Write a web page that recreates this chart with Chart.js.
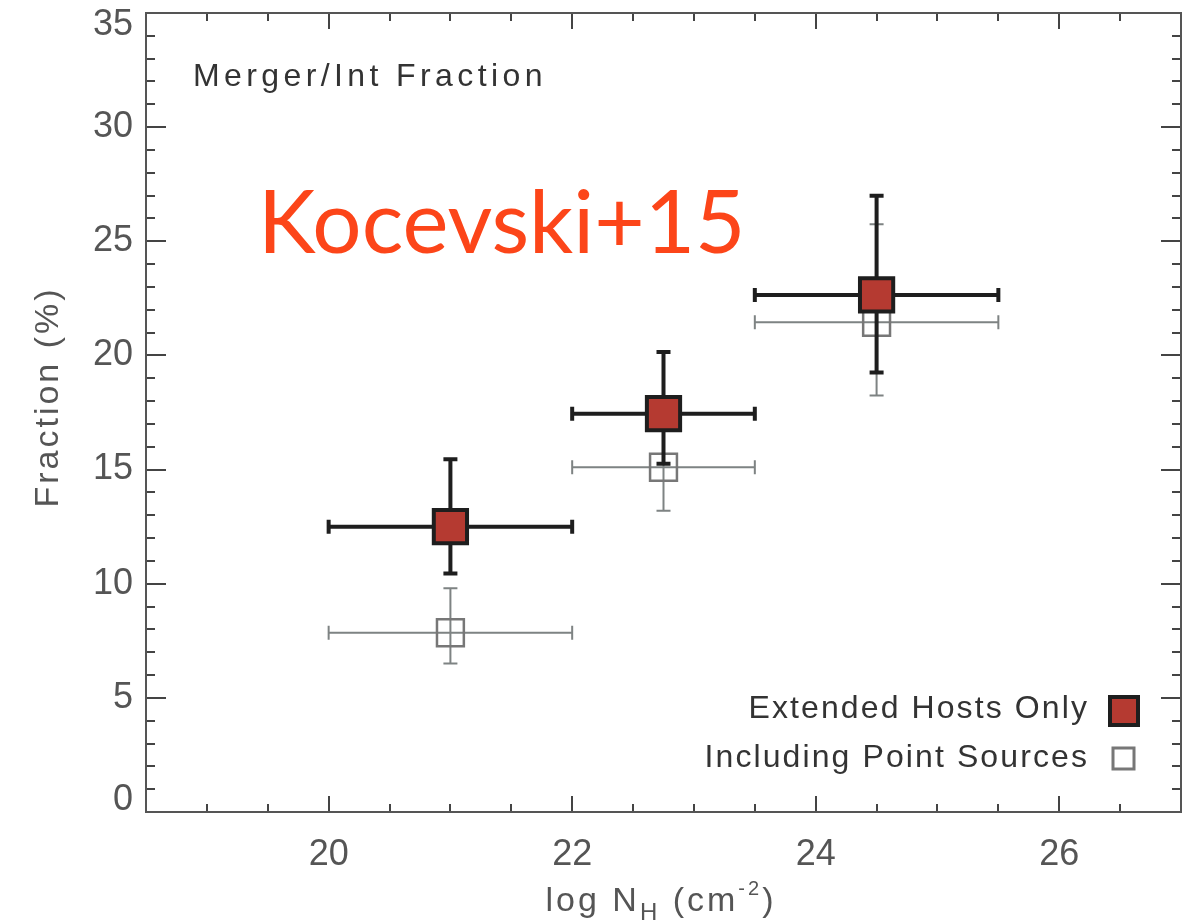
<!DOCTYPE html>
<html>
<head>
<meta charset="utf-8">
<script src="https://cdn.jsdelivr.net/npm/chart.js@4"></script>
<style>
  html, body { margin: 0; padding: 0; background: #fff; }
  #wrap { width: 1195px; height: 922px; }
</style>
</head>
<body>
<div id="wrap"><canvas id="chart" width="1195" height="922"></canvas></div>
<script>
// values
const xTicks = [20, 22, 24, 26];
const yTicks = [0, 5, 10, 15, 20, 25, 30, 35];
const seriesNames = ['Extended Hosts Only', 'Including Point Sources'];

const logNH = [21, 22.75, 24.5];
const binLo = [20, 22, 23.5];
const binHi = [22, 23.5, 25.5];

const extFrac = [12.5, 17.45, 22.65];
const extLo   = [10.45, 15.25, 19.25];
const extHi   = [15.45, 20.15, 27.0];

const allFrac = [7.85, 15.1, 21.45];
const allLo   = [6.5, 13.2, 18.25];
const allHi   = [9.8, 17.0, 25.75];

const txtFont = '"Liberation Sans", Arial, sans-serif';
const red = '#b53a31';
const dark = '#1e1e1e';
const grey = '#7e8383';

function toPoints(ys) {
  return logNH.map((x, i) => ({ x: x, y: ys[i] }));
}

const errInfo = [
  { lo: extLo, hi: extHi, color: dark, width: 4, cap: 7 },
  { lo: allLo, hi: allHi, color: grey, width: 2, cap: 7 }
];

// error bars go under each dataset's own markers
const errBars = {
  id: 'errBars',
  beforeDatasetDraw(chart, args) {
    const e = errInfo[args.index];
    const xs = chart.scales.x, ys = chart.scales.y;
    const ctx = chart.ctx;
    ctx.save();
    ctx.strokeStyle = e.color;
    ctx.lineWidth = e.width;
    ctx.lineCap = 'butt';
    const vals = chart.data.datasets[args.index].data;
    vals.forEach((p, i) => {
      const px = xs.getPixelForValue(p.x);
      const py = ys.getPixelForValue(p.y);
      const x0 = xs.getPixelForValue(binLo[i]);
      const x1 = xs.getPixelForValue(binHi[i]);
      const y0 = ys.getPixelForValue(e.lo[i]);
      const y1 = ys.getPixelForValue(e.hi[i]);
      ctx.beginPath();
      ctx.moveTo(x0, py); ctx.lineTo(x1, py);
      ctx.moveTo(px, y0); ctx.lineTo(px, y1);
      ctx.moveTo(x0, py - e.cap); ctx.lineTo(x0, py + e.cap);
      ctx.moveTo(x1, py - e.cap); ctx.lineTo(x1, py + e.cap);
      ctx.moveTo(px - e.cap, y0); ctx.lineTo(px + e.cap, y0);
      ctx.moveTo(px - e.cap, y1); ctx.lineTo(px + e.cap, y1);
      ctx.stroke();
    });
    ctx.restore();
  }
};

// frame, inward ticks, titles, legend and labels
const decor = {
  id: 'decor',
  beforeDatasetsDraw(chart) {
    const ctx = chart.ctx;
    const a = chart.chartArea;
    const xs = chart.scales.x, ys = chart.scales.y;
    ctx.save();
    ctx.strokeStyle = '#444';
    ctx.lineWidth = 2;
    ctx.beginPath();
    for (let v = 19; v < 27; v += 0.5) {
      const px = Math.round(xs.getPixelForValue(v));
      const len = xTicks.includes(v) ? 16 : 8;
      ctx.moveTo(px, a.bottom); ctx.lineTo(px, a.bottom - len);
      ctx.moveTo(px, a.top); ctx.lineTo(px, a.top + len);
    }
    for (let v = 1; v < 35; v++) {
      const py = Math.round(ys.getPixelForValue(v));
      const len = yTicks.includes(v) ? 20 : 9;
      ctx.moveTo(a.left, py); ctx.lineTo(a.left + len, py);
      ctx.moveTo(a.right, py); ctx.lineTo(a.right - len, py);
    }
    ctx.stroke();
    ctx.strokeStyle = '#555';
    ctx.strokeRect(a.left, a.top, a.right - a.left, a.bottom - a.top);

    // inner label
    ctx.fillStyle = '#333';
    ctx.font = '32px ' + txtFont;
    ctx.letterSpacing = '4.4px';
    ctx.textAlign = 'left';
    ctx.textBaseline = 'alphabetic';
    ctx.fillText('Merger/Int Fraction', 193, 86);

    // big red tag
    ctx.letterSpacing = '0px';
    ctx.fillStyle = '#fc4519';
    ctx.font = '87px Lato, "Open Sans", sans-serif';
    ctx.fillText('Kocevski+15', 258, 253);

    // y title
    ctx.fillStyle = '#555';
    ctx.font = '34px ' + txtFont;
    ctx.letterSpacing = '3px';
    ctx.save();
    ctx.translate(58, 397);
    ctx.rotate(-Math.PI / 2);
    ctx.textAlign = 'center';
    ctx.fillText('Fraction (%)', 0, 0);
    ctx.restore();

    // x title with sub/superscript
    const parts = [
      { t: 'log N', size: 34, dy: 0 },
      { t: 'H', size: 24, dy: 9 },
      { t: ' (cm', size: 34, dy: 0 },
      { t: '-2', size: 20, dy: -16 },
      { t: ')', size: 34, dy: 0 }
    ];
    let total = 0;
    parts.forEach(p => { ctx.font = p.size + 'px ' + txtFont; p.w = ctx.measureText(p.t).width; total += p.w; });
    let cx = 661 - total / 2;
    ctx.textAlign = 'left';
    parts.forEach(p => {
      ctx.font = p.size + 'px ' + txtFont;
      ctx.fillText(p.t, cx, 911 + p.dy);
      cx += p.w;
    });
    ctx.restore();
  },
  afterDraw(chart) {
    const ctx = chart.ctx;
    ctx.save();
    ctx.font = '32px ' + txtFont;
    ctx.letterSpacing = '2.1px';
    ctx.textAlign = 'right';
    ctx.textBaseline = 'middle';
    ctx.fillStyle = '#333';
    ctx.fillText(seriesNames[0], 1089, 709);
    ctx.fillText(seriesNames[1], 1089, 758);
    ctx.fillStyle = red;
    ctx.strokeStyle = dark;
    ctx.lineWidth = 4;
    ctx.fillRect(1110, 697, 28, 28);
    ctx.strokeRect(1110, 697, 28, 28);
    ctx.strokeStyle = '#777';
    ctx.lineWidth = 3;
    ctx.strokeRect(1113, 748, 21, 21);
    ctx.restore();
  }
};

// end labels of the y axis sit inside the frame, as in the original
function yLabel(v) {
  if (v === yTicks[yTicks.length - 1]) return ['', String(v)];
  if (v === yTicks[0]) return [String(v), ''];
  return String(v);
}

new Chart(document.getElementById('chart'), {
  type: 'scatter',
  data: {
    datasets: [{
      label: seriesNames[0],
      data: toPoints(extFrac),
      pointStyle: 'rect',
      pointRadius: 23.5,
      pointHoverRadius: 23.5,
      backgroundColor: red,
      borderColor: dark,
      borderWidth: 4
    }, {
      label: seriesNames[1],
      data: toPoints(allFrac),
      pointStyle: 'rect',
      pointRadius: 19,
      pointHoverRadius: 19,
      backgroundColor: 'rgba(0,0,0,0)',
      borderColor: '#777',
      borderWidth: 2.5
    }]
  },
  options: {
    responsive: false,
    animation: false,
    events: [],
    layout: { autoPadding: false, padding: { top: 13, right: 14, left: 0, bottom: 0 } },
    plugins: {
      legend: { display: false },
      tooltip: { enabled: false }
    },
    scales: {
      x: {
        type: 'linear',
        min: 18.5,
        max: 27,
        afterBuildTicks: s => { s.ticks = xTicks.map(v => ({ value: v })); },
        afterFit: s => { s.height = 110; s.paddingLeft = 0; s.paddingRight = 0; },
        grid: { display: false, drawTicks: false },
        border: { display: false },
        ticks: { color: '#555', padding: 21, font: { size: 36, family: txtFont } }
      },
      y: {
        min: 0,
        max: 35,
        afterBuildTicks: s => { s.ticks = yTicks.map(v => ({ value: v })); },
        afterFit: s => { s.width = 146; s.paddingTop = 0; s.paddingBottom = 0; },
        grid: { display: false, drawTicks: false },
        border: { display: false },
        ticks: {
          color: '#555',
          padding: 13,
          callback: v => yLabel(v),
          font: c => {
            const v = c.tick ? c.tick.value : null;
            const edge = v === yTicks[0] || v === yTicks[yTicks.length - 1];
            return { size: 36, family: txtFont, lineHeight: edge ? 0.67 : 1.2 };
          }
        }
      }
    }
  },
  plugins: [errBars, decor]
});
</script>
</body>
</html>
